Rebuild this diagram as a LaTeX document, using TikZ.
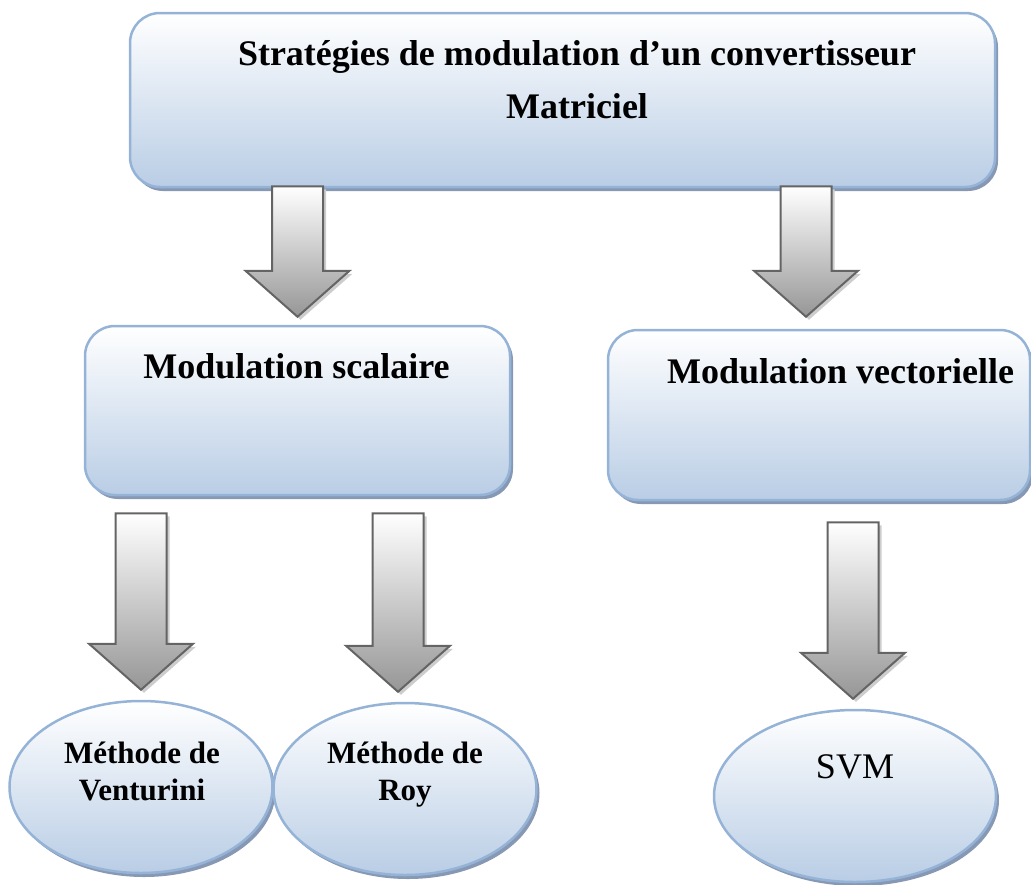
\documentclass[tikz,border=0pt]{standalone}
\usepackage{fontspec}
\setmainfont{Liberation Serif}
\usetikzlibrary{shapes.geometric,shadows,calc}

\definecolor{boxblue}{RGB}{185,205,229}
\definecolor{boxline}{RGB}{149,179,215}
\definecolor{boxshadow}{RGB}{135,152,180}
\definecolor{arrowgray}{RGB}{150,150,150}
\definecolor{arrowline}{RGB}{100,100,100}
\definecolor{arrowshade}{RGB}{205,205,205}

\tikzset{
    block/.style={draw=boxline, line width=2.5pt, rounded corners=30pt, top color=white, bottom color=boxblue,
        drop shadow={shadow xshift=3pt, shadow yshift=-4pt, fill=boxshadow, opacity=1}, inner sep=0pt},
    method/.style={ellipse, draw=boxline, line width=2.5pt, top color=white, bottom color=boxblue,
        drop shadow={shadow xshift=3pt, shadow yshift=-4pt, fill=boxshadow, opacity=1}, inner sep=0pt},
    bigtext/.style={font=\fontsize{36}{53}\selectfont\bfseries, align=center, inner sep=0pt, anchor=base},
    smalltext/.style={font=\fontsize{31}{37}\selectfont\bfseries, align=center, inner sep=0pt, anchor=base},
    arrowbody/.style={draw=arrowline, line width=2pt, top color=white, bottom color=arrowgray},
    arrowshadow/.style={fill=arrowshade},
}

% block arrow pointing down: #1 = top of shaft, #2 = tip
\newcommand{\bigarrow}[2]{%
    \path[arrowshadow] let \p1=(#1), \p2=(#2) in
        (\x1-22.5pt,\y1-3pt) -- (\x1+28.5pt,\y1-3pt) -- (\x1+28.5pt,\y2+43pt) -- (\x1+55pt,\y2+43pt)
        -- (\x1+3pt,\y2-3pt) -- (\x1-49pt,\y2+43pt) -- (\x1-22.5pt,\y2+43pt) -- cycle;
    \path[arrowbody] let \p1=(#1), \p2=(#2) in
        (\x1-25.5pt,\y1) -- (\x1+25.5pt,\y1) -- (\x1+25.5pt,\y2+46pt) -- (\x1+52pt,\y2+46pt)
        -- (\x1,\y2) -- (\x1-52pt,\y2+46pt) -- (\x1-25.5pt,\y2+46pt) -- cycle;
}

\begin{document}
\begin{tikzpicture}[x=1pt, y=-1pt]

    \useasboundingbox (0,0) rectangle (1031,884);

    % Boxes
    \node[block, minimum width=865pt, minimum height=174pt] (strat) at (562.5,100) {};
    \node[block, minimum width=425pt, minimum height=169pt] (scal) at (297.5,410.5) {};
    \node[block, minimum width=422pt, minimum height=170pt] (vect) at (819,415) {};

    % Methods
    \node[method, minimum width=263pt, minimum height=172pt] (venturini) at (141,787) {};
    \node[method, minimum width=263pt, minimum height=172pt] (roy) at (405,789) {};
    \node[method, minimum width=282pt, minimum height=172pt] (svm) at (855,796) {};

    % Texts (base = last line)
    \node[bigtext] (strattext) at (577,118) {Stratégies de modulation d’un convertisseur\\Matriciel};
    \node[bigtext] (scaltext) at (296.5,378) {Modulation scalaire};
    \node[bigtext] (vecttext) at (840.5,383) {Modulation vectorielle};
    \node[smalltext] (venturinitext) at (142,800) {Méthode de\\Venturini};
    \node[smalltext] (roytext) at (405,800) {Méthode de\\Roy};
    \node[anchor=base, inner sep=0pt, font=\fontsize{36}{43}\selectfont] (svmtext) at (855,778) {SVM};

    % Arrows
    \bigarrow{$(strat.south -| scal.north)+(0,-2)$}{$(scal.north)+(0,-8)$}
    \bigarrow{$(strat.south -| vect.north)+(-13,-2)$}{$(vect.north)+(-13,-12)$}
    \bigarrow{$(scal.south -| venturini.north)+(0,17)$}{$(venturini.north)+(0,-10)$}
    \bigarrow{$(scal.south -| roy.north)+(-7,17)$}{$(roy.north)+(-7,-10)$}
    \bigarrow{$(vect.south -| svm.north)+(-2,21)$}{$(svm.north)+(-2,-10)$}

\end{tikzpicture}
\end{document}
